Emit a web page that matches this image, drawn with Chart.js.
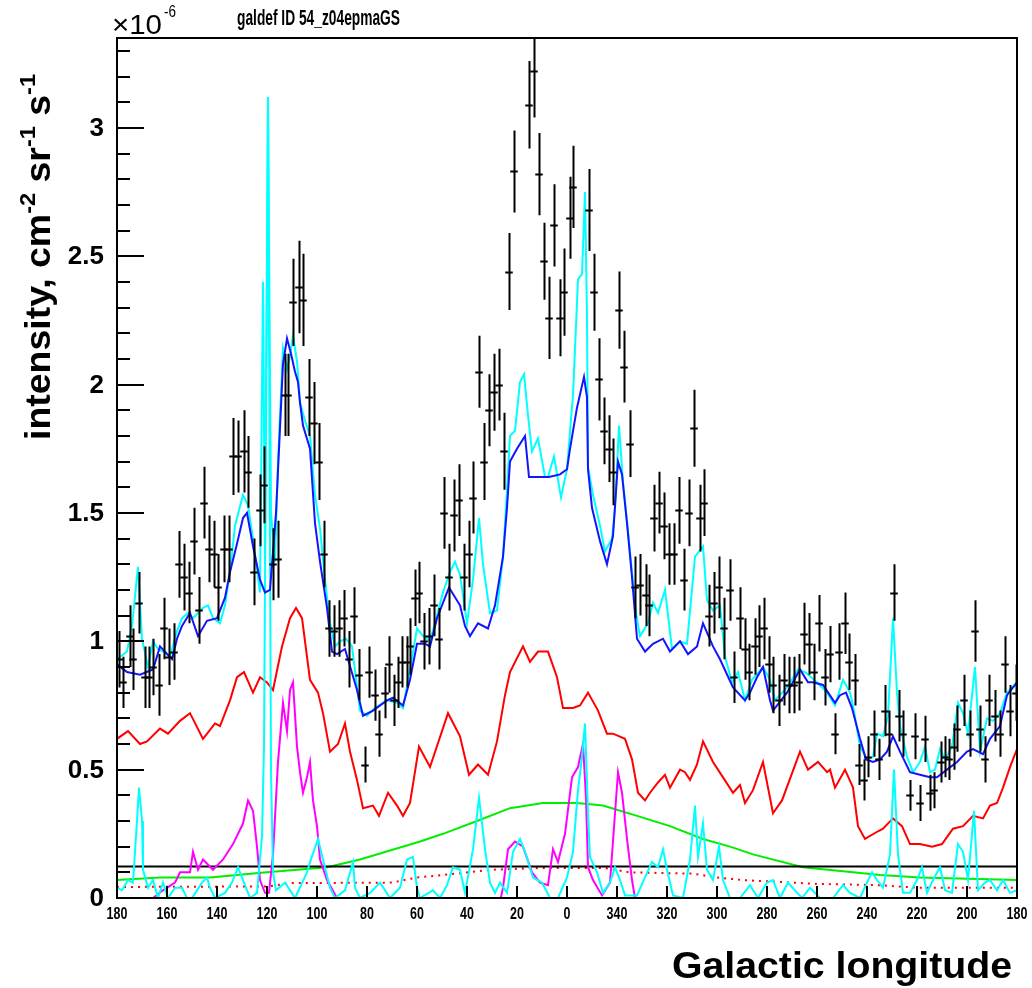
<!DOCTYPE html>
<html>
<head>
<meta charset="utf-8">
<script src="https://cdn.jsdelivr.net/npm/chart.js@4.4.0/dist/chart.umd.min.js"></script>
<style>
  html, body { margin: 0; padding: 0; background: #fff; }
  #wrap { width: 1032px; height: 988px; }
</style>
</head>
<body>
<div id="wrap"><canvas id="profile" width="1032" height="988"></canvas></div>
<script>
// Longitude profile, values in units of 1e-6 cm^-2 sr^-1 s^-1
// Longitudes run 180 -> 0 -> -180 (shown as 360-l on the right half)

// measured points (black crosses)
const dataLon = [
  179, 177.6, 174.8, 173.6, 171.2, 168.8, 167.2, 165.6, 163.2, 161.2,
  159.2, 157.2, 155.2, 153.2, 151.2, 149.2, 147.2, 145.2, 143.2, 141.2,
  139.6, 137.2, 135.2, 133.6, 131.6, 129.2, 127.6, 125.2, 122.8, 121.2,
  117.6, 115.6, 112.8, 111.6, 109.6, 107.2, 105.6, 103.2, 101.2, 99.2,
  97.2, 95.2, 93.2, 91.2, 89.2, 87.2, 85.2, 83.2, 80.8, 79.2,
  76.8, 75.2, 72.8, 71.2, 69.2, 67.6, 66, 64, 62.8, 60.8,
  59.2, 57.2, 55.2, 53.2, 51.2, 49.2, 47.2, 45.2, 43.2, 41.2,
  39.2, 37.6, 35.2, 33.2, 31.2, 29.2, 27.2, 25.2, 23.2, 21.2,
  15.2, 13.2, 11.2, 9.2, 7.2, 5.2, 2.8, 1.2, -1.2, -2.4,
  -8.8, -10.8, -12.8, -14.8, -16.8, -18.4, -20.8, -22.8, -25.2, -27.2,
  -29.2, -31.6, -32.8, -34.8, -36.8, -38.8, -40.8, -42.8, -44.8, -46.8,
  -48.8, -50.8, -53.2, -54.8, -56.8, -58.8, -60.8, -62.8, -65.2, -66.8,
  -69.2, -71.2, -72.8, -75.2, -76.8, -78.8, -80.8, -82.4, -84.8, -86.8,
  -88.8, -90.8, -92.8, -94.8, -96.8, -98.8, -100.8, -103.2, -105.2, -107.2,
  -108.8, -111.2, -112.8, -115.2, -116.8, -118.8, -120.4, -122.8, -124.8, -127.2,
  -128.8, -130.8, -132.8, -134.4, -137.2, -139.2, -141.2, -143.2, -145.2, -146.8,
  -149.6, -151.2, -152.8, -154.8, -156, -158.8, -161.2, -163.2, -165.2, -167.2,
  -168.8, -171.2, -173.2, -175.2, -177.2, -179.6
];
const dataVal = [
  0.93, 0.84, 1.02, 0.93, 1.15, 0.86, 0.86, 0.90, 0.83, 1.05,
  0.94, 0.96, 1.30, 1.25, 1.19, 1.39, 1.12, 1.54, 1.36, 1.34,
  1.21, 1.36, 1.36, 1.72, 1.72, 1.74, 1.66, 1.27, 1.51, 1.61,
  1.30, 1.32, 1.96, 1.96, 2.32, 2.38, 2.33, 1.95, 1.85, 1.70,
  1.34, 1.05, 1.04, 1.05, 1.09, 0.93, 1.10, 0.87, 0.52, 0.88,
  0.79, 0.64, 0.80, 0.91, 0.77, 0.84, 0.92, 0.92, 0.98, 1.17,
  1.19, 1.00, 1.02, 1.14, 1.01, 1.50, 1.25, 1.49, 1.55, 1.25,
  1.34, 1.56, 2.05, 1.70, 1.90, 1.97, 2.00, 1.74, 2.44, 2.83,
  3.09, 3.22, 2.82, 2.48, 2.26, 2.62, 2.26, 2.36, 2.65, 2.77,
  2.68, 2.36, 2.02, 1.82, 1.75, 1.66, 2.29, 2.07, 1.77, 1.21,
  1.22, 1.18, 1.14, 1.48, 1.54, 1.45, 1.34, 1.34, 1.51, 1.24,
  1.50, 1.83, 1.48, 1.54, 1.10, 1.15, 1.21, 1.05, 1.20, 0.86,
  1.09, 0.97, 0.88, 0.98, 1.02, 1.05, 0.91, 0.83, 0.77, 0.85,
  0.83, 0.83, 0.84, 1.03, 0.99, 0.88, 1.07, 0.86, 0.95, 0.64,
  0.96, 1.07, 0.92, 0.85, 0.52, 0.46, 0.55, 0.64, 0.54, 0.73,
  0.64, 1.19, 0.71, 0.64, 0.40, 0.63, 0.37, 0.62, 0.41, 0.42,
  0.53, 0.55, 0.54, 0.59, 0.66, 0.77, 0.64, 1.04, 0.66, 0.54,
  0.77, 0.71, 0.64, 0.91, 0.73, 0.80
];
const dataErr = [
  0.11, 0.10, 0.12, 0.12, 0.12, 0.12, 0.12, 0.11, 0.12, 0.12,
  0.11, 0.11, 0.13, 0.13, 0.12, 0.13, 0.13, 0.14, 0.13, 0.13,
  0.13, 0.13, 0.13, 0.15, 0.14, 0.16, 0.14, 0.13, 0.14, 0.15,
  0.14, 0.15, 0.16, 0.16, 0.17, 0.18, 0.18, 0.15, 0.16, 0.15,
  0.13, 0.11, 0.10, 0.11, 0.11, 0.11, 0.11, 0.10, 0.07, 0.10,
  0.10, 0.09, 0.10, 0.11, 0.10, 0.10, 0.10, 0.10, 0.11, 0.11,
  0.12, 0.11, 0.11, 0.12, 0.12, 0.14, 0.13, 0.14, 0.14, 0.13,
  0.13, 0.14, 0.14, 0.15, 0.14, 0.15, 0.14, 0.15, 0.15, 0.16,
  0.17, 0.18, 0.16, 0.15, 0.16, 0.16, 0.15, 0.17, 0.16, 0.16,
  0.16, 0.15, 0.16, 0.13, 0.13, 0.13, 0.15, 0.14, 0.13, 0.12,
  0.12, 0.12, 0.12, 0.13, 0.12, 0.13, 0.12, 0.12, 0.13, 0.12,
  0.13, 0.15, 0.13, 0.13, 0.12, 0.12, 0.12, 0.12, 0.12, 0.10,
  0.12, 0.12, 0.11, 0.11, 0.12, 0.12, 0.11, 0.11, 0.10, 0.10,
  0.11, 0.11, 0.11, 0.12, 0.12, 0.11, 0.11, 0.11, 0.11, 0.08,
  0.11, 0.12, 0.11, 0.10, 0.08, 0.08, 0.08, 0.09, 0.08, 0.10,
  0.09, 0.11, 0.10, 0.09, 0.06, 0.09, 0.07, 0.09, 0.07, 0.07,
  0.08, 0.08, 0.08, 0.09, 0.09, 0.10, 0.09, 0.12, 0.09, 0.09,
  0.10, 0.10, 0.09, 0.11, 0.10, 0.11
];

// total model (blue)
const blueLon = [
  180, 176, 170.8, 165.6, 162.8, 158, 156, 154, 150.8, 147.6, 144, 140, 136.8, 134.8, 132, 129.6, 128, 125.6,
  122.8, 120.8, 118.8, 116.4, 113.6, 112, 110.4, 108.8, 107.6, 106.8, 105.6, 102.8, 100.8, 98.8, 96, 94, 92,
  88.8, 84, 81.6, 77.6, 72, 69.6, 65.6, 62.8, 60, 56.8, 54.8, 52, 47.2, 42.8, 40.8, 38.8, 35.6, 31.6, 28.8,
  25.6, 24, 22.8, 20, 16.8, 15.2, 9.6, 7.2, 2.8, 0, -1.2, -4, -6.8, -8, -8.4, -10, -13.2, -16, -18.4, -20.4,
  -22, -24, -26, -28, -31.2, -34.4, -38.4, -41.2, -45.2, -48.4, -52, -54.4, -58.4, -61.2, -66.4, -71.2,
  -73.2, -76, -78.4, -81.2, -82.4, -88, -93.2, -96.4, -98.4, -102.4, -107.2, -109.2, -111.6, -114, -117.2,
  -119.6, -122.4, -125.2, -128, -130.4, -133.2, -137.2, -141.2, -145.2, -148, -152, -156, -160, -162.4,
  -166.4, -169.2, -173.2, -176, -180
];
const blueVal = [
  0.91, 0.88, 0.87, 0.89, 0.98, 0.93, 1.01, 1.06, 1.11, 1.02, 1.08, 1.09, 1.17, 1.27, 1.38, 1.48, 1.50, 1.37,
  1.24, 1.19, 1.20, 1.50, 2.08, 2.18, 2.12, 2.05, 2.01, 1.93, 1.84, 1.75, 1.46, 1.31, 1.13, 0.96, 0.95,
  0.97, 0.81, 0.71, 0.73, 0.77, 0.78, 0.75, 0.85, 0.99, 0.99, 0.98, 1.09, 1.21, 1.14, 1.06, 1.02, 1.07, 1.05, 1.14,
  1.33, 1.52, 1.70, 1.75, 1.80, 1.64, 1.64, 1.64, 1.65, 1.67, 1.75, 1.91, 2.03, 1.95, 1.67, 1.52, 1.39, 1.30, 1.41, 1.70,
  1.65, 1.46, 1.25, 1.01, 0.96, 0.99, 1.01, 0.96, 1.00, 0.95, 0.98, 1.07, 0.98, 0.93, 0.82, 0.77,
  0.80, 0.86, 0.90, 0.77, 0.73, 0.80, 0.89, 0.84, 0.84, 0.83, 0.76, 0.79, 0.80, 0.74, 0.62,
  0.54, 0.53, 0.54, 0.57, 0.63, 0.57, 0.49, 0.48, 0.47, 0.47, 0.50, 0.53, 0.57, 0.58,
  0.56, 0.62, 0.67, 0.79, 0.84
];

// model with sources (cyan, upper)
const cyanLon = [
  180, 176, 174, 171.6, 170, 167.6, 165.6, 163.6, 161.6, 158.8, 156, 154, 151.6, 149.6, 147.6, 145.6, 143.6,
  141.6, 138.8, 136.8, 134.8, 132.8, 129.6, 127.6, 125.6, 122.8, 121.6, 120.8, 119.6, 118.4, 116.8, 115.6,
  113.6, 112, 110.8, 109.6, 108, 106.8, 104.8, 102.8, 100.8, 98.8, 96.8, 94.8, 92.8, 90.8, 88.4, 86, 82.8,
  80, 76.8, 72, 68, 65.6, 62.8, 60, 57.6, 54.8, 52, 49.6, 46.8, 44.8, 42.8, 40, 37.6, 35.2, 33.6, 30.8, 28,
  25.6, 24, 22.8, 20.8, 18.8, 17.2, 15.6, 14, 11.6, 8.8, 7.6, 5.2, 2.4, 0, -2.4, -4.4, -6, -7.2, -8, -8.4,
  -10.4, -13.2, -15.2, -18, -19.2, -20.8, -22.4, -24.4, -26.4, -27.6, -29.2, -32.4, -34.4, -36.4, -39.2,
  -42, -45.2, -48, -51.2, -54.4, -56, -58.4, -61.2, -63.2, -66, -68.4, -71.2, -74, -78.4, -81.2, -83.2,
  -88, -92.4, -95.2, -100, -104, -107.2, -110.4, -113.2, -114.4, -117.2, -120, -122.4, -124, -126.4,
  -128.4, -130.4, -132, -133.2, -136, -138.4, -141.2, -143.2, -145.2, -147.2, -149.2, -151.2, -154,
  -156.4, -158.4, -160.4, -163.2, -165.2, -168, -170.4, -173.2, -176, -180
];
const cyanVal = [
  0.93, 0.96, 1.06, 1.29, 1.01, 0.90, 1.00, 0.97, 0.96, 0.94, 1.04, 1.09, 1.11, 1.09, 1.11, 1.13, 1.14,
  1.09, 1.07, 1.14, 1.27, 1.45, 1.57, 1.53, 1.40, 1.19, 2.40, 1.30, 3.12, 1.50, 1.31, 1.70,
  2.14, 2.06, 2.11, 2.19, 2.09, 1.93, 1.86, 1.80, 1.57, 1.44, 1.24, 1.07, 0.98, 1.00, 1.01, 0.98, 0.73,
  0.71, 0.74, 0.77, 0.76, 0.74, 0.89, 1.05, 1.02, 1.00, 1.10, 1.19, 1.27, 1.31, 1.26, 1.07, 1.24, 1.48, 1.30, 1.11, 1.12,
  1.33, 1.59, 1.80, 1.82, 2.01, 2.04, 1.88, 1.74, 1.79, 1.64, 1.64, 1.72, 1.56, 1.67, 1.96, 2.41, 2.43, 2.75, 2.27, 1.68,
  1.57, 1.45, 1.35, 1.40, 1.52, 1.84, 1.62, 1.43, 1.23, 1.11, 1.02, 1.07, 1.15, 1.11, 1.20,
  0.97, 1.00, 0.99, 1.33, 1.37, 1.16, 1.12, 1.14, 0.94, 0.84, 0.88, 0.77, 0.85, 0.90, 0.85, 0.77,
  0.82, 0.89, 0.88, 0.84, 0.80, 0.75, 0.85, 0.80, 0.75, 0.59, 0.54, 0.55, 0.64, 0.63,
  0.71, 1.09, 0.80, 0.67, 0.55, 0.49, 0.53, 0.59, 0.49, 0.50, 0.58, 0.54, 0.59,
  0.76, 0.72, 0.64, 0.90, 0.57, 0.70, 0.69, 0.72, 0.80, 0.84
];

// component (red)
const redLon = [
  180, 175.6, 170.8, 168, 162.8, 159.6, 154.8, 150.8, 145.6, 140.8, 138.8, 134.8, 132, 129.2, 125.6, 122.8,
  120, 117.6, 114, 110.8, 108.4, 106, 102.8, 99.6, 97.6, 94.8, 91.6, 88.8, 86.8, 84, 81.6, 77.6, 75.2, 71.6,
  68, 65.6, 62.8, 59.2, 54.8, 47.6, 42.8, 39.2, 35.6, 31.6, 28, 24.8, 22.8, 17.6, 14.8, 11.6, 7.6, 4, 1.6,
  -2.4, -5.2, -8.4, -12.4, -16, -18.4, -23.2, -26, -28.4, -31.2, -33.2, -36.4, -39.2, -41.2, -45.2, -47.2,
  -49.2, -52, -54.4, -58.4, -62.4, -66.4, -69.2, -71.2, -74.4, -78.4, -82.4, -86, -93.2, -96.4, -100.4, -104,
  -105.2, -107.2, -111.2, -114.4, -116.4, -119.2, -124.4, -126.4, -130.4, -134, -137.2, -141.2, -146, -150,
  -154.4, -158.4, -162.4, -166.4, -169.2, -172, -174.4, -177.2, -180
];
const redVal = [
  0.62, 0.65, 0.60, 0.61, 0.66, 0.64, 0.69, 0.72, 0.62, 0.68, 0.67, 0.77, 0.86, 0.88, 0.80, 0.86,
  0.84, 0.81, 0.98, 1.09, 1.13, 1.09, 0.85, 0.80, 0.72, 0.57, 0.60, 0.68, 0.57, 0.46, 0.35, 0.36, 0.32, 0.41,
  0.36, 0.32, 0.37, 0.59, 0.51, 0.72, 0.63, 0.48, 0.52, 0.48, 0.61, 0.79, 0.88, 0.98, 0.92, 0.96, 0.96, 0.86, 0.74,
  0.74, 0.75, 0.80, 0.73, 0.64, 0.64, 0.62, 0.54, 0.41, 0.38, 0.41, 0.45, 0.48, 0.43, 0.50, 0.49,
  0.46, 0.52, 0.61, 0.53, 0.47, 0.41, 0.44, 0.37, 0.42, 0.53, 0.33, 0.38, 0.57, 0.50, 0.53, 0.49,
  0.50, 0.43, 0.50, 0.43, 0.28, 0.23, 0.26, 0.27, 0.31, 0.28, 0.21, 0.21, 0.20, 0.21,
  0.27, 0.28, 0.32, 0.31, 0.36, 0.37, 0.43, 0.51, 0.58
];

// component (magenta), null separates the two humps
const magentaLon = [
  166.8, 165.6, 161.6, 156.8, 154.8, 150.8, 149.6, 147.6, 145.6, 141.6, 137.6, 133.6, 129.6, 127.6, 125.6,
  124, 122.8, 120.8, 119.2, 117.6, 115.6, 113.6, 112, 110.8, 109.6, 108, 106.8, 105.6, 104, 102.8, 101.6,
  100, 98.8, 96, 92, 88.8, 60,
  27.6, 25.6, 23.6, 20.8, 17.6, 14, 10.8, 7.6, 5.6, 3.6, 0.8, -2, -4.4, -6.4, -7.6, -8.4, -10.4, -14,
  -17.2, -19.2, -20.4, -22, -24, -26, -27.2, -29.2
];
const magentaVal = [
  -0.05, 0.0, 0.03, 0.06, 0.10, 0.10, 0.18, 0.11, 0.15, 0.11, 0.15, 0.21, 0.29, 0.38, 0.34,
  0.20, 0.07, 0.02, 0.02, 0.17, 0.53, 0.76, 0.65, 0.81, 0.84, 0.59, 0.49, 0.41, 0.47, 0.53, 0.38,
  0.28, 0.15, 0.07, 0.0, -0.05, null,
  -0.05, 0.04, 0.19, 0.22, 0.20, 0.10, 0.06, 0.05, 0.19, 0.14, 0.25, 0.47, 0.51, 0.60, 0.39, 0.12, 0.07, 0.01,
  0.06, 0.33, 0.49, 0.41, 0.23, 0.07, 0.0, -0.05
];

// broad component (green)
const greenLon = [180, 162.8, 142.8, 120, 96, 82.8, 58.8, 49.6, 36, 22.8, 9.6, -4, -14.4, -28, -41.2, -54.4, -65.2, -74.4, -94.4, -114.4, -125.2, -141.2, -180];
const greenVal = [0.07, 0.08, 0.08, 0.10, 0.12, 0.15, 0.22, 0.25, 0.30, 0.35, 0.37, 0.37, 0.36, 0.32, 0.28, 0.23, 0.20, 0.17, 0.12, 0.10, 0.09, 0.08, 0.07];

// sources (cyan, near zero)
const srcLon = [
  180, 178, 175.6, 173.6, 172, 171.2, 170, 169.6, 167.6, 165.6, 163.6, 161.6, 159.6, 156.8, 154, 152, 150,
  146, 144, 142.8, 140.8, 136.8, 134, 131.6, 129.6, 126.8, 124, 122, 121.2, 119.6, 118.4, 117.6, 116.4,
  112.8, 108.8, 104, 102.8, 99.6, 97.6, 94.8, 92.8, 88.8, 85.6, 84.8, 82.8, 78.8, 74.8, 70.8, 66.8, 64,
  61.6, 60, 58.8, 53.6, 50.8, 48, 45.6, 42.8, 40.8, 37.6, 35.2, 32.8, 30.8, 28.8, 26.8, 24, 21.6, 18.8,
  16.8, 13.6, 10, 6.8, 3.6, 0, -2.4, -4.4, -6, -7.2, -8.4, -9.2, -12, -14.4, -17.2, -19.2, -21.2, -23.2,
  -28, -31.2, -34, -36.4, -38.4, -40, -42.4, -46.4, -49.2, -51.2, -52.4, -54.4, -56, -58.4, -60.8, -62.4,
  -65.2, -69.2, -73.2, -76.4, -80, -82.4, -85.2, -88.4, -91.2, -94, -97.2, -101.2, -106.4, -110.4, -113.2,
  -117.2, -120, -122, -124, -126.4, -129.2, -130.8, -132.4, -134.4, -137.2, -140, -142, -144, -146.4,
  -149.2, -151.2, -154, -156.4, -158.4, -160.4, -162.8, -164.4, -167.2, -169.2, -172, -174.4, -177.2, -180
];
const srcVal = [
  0.04, 0.03, 0.07, 0.06, 0.30, 0.43, 0.30, 0.11, 0.04, 0.07, 0.0, 0.06, 0.0, 0.04, 0.04, 0.0, 0.0,
  0.06, 0.08, 0.04, 0.0, 0.02, 0.06, 0.12, 0.07, 0.0, 0.02, 0.24, 0.59, 3.12, 0.50, 0.10, 0.03,
  0.06, 0.0, 0.10, 0.14, 0.23, 0.15, 0.04, 0.0, 0.03, 0.14, 0.04, 0.0, 0.02, 0.06, 0.0, 0.04, 0.15,
  0.16, 0.04, 0.0, 0.03, 0.0, 0.05, 0.12, 0.11, 0.02, 0.19, 0.39, 0.19, 0.06, 0.02, 0.06, 0.02, 0.18, 0.23,
  0.18, 0.08, 0.06, 0.0, 0.0, 0.08, 0.18, 0.42, 0.55, 0.68, 0.33, 0.16, 0.10, 0.02, 0.06, 0.12, 0.07, 0.01,
  0.01, 0.08, 0.14, 0.12, 0.19, 0.11, 0.01, 0.0, 0.15, 0.36, 0.16, 0.29, 0.11, 0.07, 0.20, 0.07,
  0.0, 0.0, 0.05, 0.0, 0.06, 0.07, 0.0, 0.06, 0.03, 0.0, 0.04, 0.0, 0.0, 0.05, 0.02,
  0.0, 0.06, 0.10, 0.07, 0.04, 0.17, 0.50, 0.17, 0.02, 0.02, 0.07, 0.12, 0.02, 0.07,
  0.12, 0.03, 0.02, 0.21, 0.18, 0.07, 0.34, 0.03, 0.06, 0.07, 0.03, 0.07, 0.02, 0.03
];

// red dotted component
const dotLon = [180, 120, 110, 70, 60, 49, 30, 10, -15, -25, -50, -60, -70, -100, -125, -140, -180];
const dotVal = [0.043, 0.045, 0.058, 0.06, 0.08, 0.09, 0.11, 0.117, 0.117, 0.10, 0.095, 0.08, 0.07, 0.055, 0.05, 0.04, 0.04];

// flat isotropic level (black)
const isoLon = [180, -180];
const isoVal = [0.123, 0.123];

// axes
const xTickValues = [180, 160, 140, 120, 100, 80, 60, 40, 20, 0, -20, -40, -60, -80, -100, -120, -140, -160, -180];
const xTickLabels = ['180', '160', '140', '120', '100', '80', '60', '40', '20', '0', '340', '320', '300', '280', '260', '240', '220', '200', '180'];
const yTickValues = [0, 0.5, 1, 1.5, 2, 2.5, 3];
const yTickLabels = ['0', '0.5', '1', '1.5', '2', '2.5', '3'];

function toPoints(lons, vals) {
  return lons.map((l, i) => ({ x: l, y: vals[i] }));
}

function lineSet(lons, vals, color, order, extra) {
  return Object.assign({
    data: toPoints(lons, vals),
    borderColor: color,
    borderWidth: 2,
    pointRadius: 0,
    tension: 0,
    fill: false,
    order: order
  }, extra || {});
}

// draw text squeezed/stretched to a given width
function fitText(ctx, text, x, y, width) {
  const w = ctx.measureText(text).width;
  const k = width ? width / w : 1;
  ctx.save();
  ctx.translate(x, y);
  ctx.scale(k, 1);
  ctx.fillText(text, 0, 0);
  ctx.restore();
}

const rootFrame = {
  id: 'rootFrame',
  afterDatasetsDraw(chart) {
    const ctx = chart.ctx;
    const xs = chart.scales.x, ys = chart.scales.y;
    const area = chart.chartArea;

    // error bars
    ctx.save();
    ctx.beginPath();
    ctx.rect(area.left, area.top, area.right - area.left, area.bottom - area.top);
    ctx.clip();
    ctx.strokeStyle = '#000';
    ctx.lineWidth = 2;
    for (let i = 0; i < dataLon.length; i++) {
      const px = Math.round(xs.getPixelForValue(dataLon[i])) + 0.5;
      const py = Math.round(ys.getPixelForValue(dataVal[i])) + 0.5;
      ctx.beginPath();
      ctx.moveTo(px, ys.getPixelForValue(dataVal[i] + dataErr[i]));
      ctx.lineTo(px, ys.getPixelForValue(dataVal[i] - dataErr[i]));
      ctx.moveTo(xs.getPixelForValue(dataLon[i] + 1.5), py);
      ctx.lineTo(xs.getPixelForValue(dataLon[i] - 1.5), py);
      ctx.stroke();
    }
    ctx.restore();

    // frame
    ctx.save();
    ctx.strokeStyle = '#000';
    ctx.lineWidth = 2;
    ctx.strokeRect(area.left, area.top, area.right - area.left, area.bottom - area.top);

    // y ticks, inward
    ctx.beginPath();
    for (let k = 0; k <= 33; k++) {
      const v = k / 10;
      const py = Math.round(ys.getPixelForValue(v));
      const len = (k % 5 === 0) ? 27 : 13;
      ctx.moveTo(area.left, py);
      ctx.lineTo(area.left + len, py);
    }
    // x ticks, inward
    xTickValues.forEach(v => {
      const px = Math.round(xs.getPixelForValue(v));
      ctx.moveTo(px, area.bottom);
      ctx.lineTo(px, area.bottom - 12);
    });
    ctx.stroke();

    ctx.fillStyle = '#000';
    // y tick labels
    ctx.font = 'bold 26px "Liberation Sans", Arial, sans-serif';
    ctx.textAlign = 'right';
    ctx.textBaseline = 'middle';
    yTickValues.forEach((v, i) => {
      ctx.fillText(yTickLabels[i], area.left - 13, ys.getPixelForValue(v) + 1);
    });

    // x tick labels
    ctx.font = 'bold 16px "Liberation Sans", Arial, sans-serif';
    ctx.textAlign = 'center';
    ctx.textBaseline = 'alphabetic';
    xTickValues.forEach((v, i) => {
      const px = xs.getPixelForValue(v);
      const w = ctx.measureText(xTickLabels[i]).width * 0.78;
      fitText(ctx, xTickLabels[i], px, 919, w);
    });

    // x title
    ctx.font = 'bold 36px "Liberation Sans", Arial, sans-serif';
    ctx.textAlign = 'right';
    fitText(ctx, 'Galactic longitude', 1012, 978, 340);

    // title
    ctx.font = 'bold 22px "Liberation Sans", Arial, sans-serif';
    ctx.textAlign = 'left';
    fitText(ctx, 'galdef ID 54_z04epmaGS', 237, 25, 163);

    // exponent
    ctx.font = '28px "Liberation Sans", Arial, sans-serif';
    fitText(ctx, '\u00d710', 112, 34, 50);
    ctx.font = '17px "Liberation Sans", Arial, sans-serif';
    fitText(ctx, '-6', 164, 17, 12);

    // y title with superscripts, rotated
    ctx.translate(50, 440);
    ctx.rotate(-Math.PI / 2);
    const parts = [
      ['intensity, cm', 0], ['-2', 1], [' sr', 0], ['-1', 1], [' s', 0], ['-1', 1]
    ];
    const big = 'bold 35px "Liberation Sans", Arial, sans-serif';
    const small = 'bold 22px "Liberation Sans", Arial, sans-serif';
    let total = 0;
    parts.forEach(p => { ctx.font = p[1] ? small : big; total += ctx.measureText(p[0]).width; });
    const k = 366 / total;
    ctx.scale(k, 1);
    let cx = 0;
    ctx.textAlign = 'left';
    parts.forEach(p => {
      ctx.font = p[1] ? small : big;
      ctx.fillText(p[0], cx, p[1] ? -15 : 0);
      cx += ctx.measureText(p[0]).width;
    });
    ctx.restore();
  }
};

const ctx = document.getElementById('profile').getContext('2d');

const profileChart = new Chart(ctx, {
  type: 'line',
  data: {
    datasets: [
      // measured points: the crosses are drawn by the plugin from these
      { data: toPoints(dataLon, dataVal), showLine: false, pointRadius: 0, borderColor: '#000', order: 0 },
      lineSet(blueLon, blueVal, '#1414ff', 1),
      lineSet(cyanLon, cyanVal, '#00ffff', 2),
      lineSet(srcLon, srcVal, '#00ffff', 3),
      lineSet(magentaLon, magentaVal, '#ff00ff', 4),
      lineSet(redLon, redVal, '#ff0000', 5),
      lineSet(isoLon, isoVal, '#000000', 6),
      lineSet(dotLon, dotVal, '#ff0000', 7, { borderDash: [2, 5] }),
      lineSet(greenLon, greenVal, '#00ee00', 8)
    ]
  },
  options: {
    responsive: false,
    devicePixelRatio: 1,
    animation: false,
    events: [],
    layout: {
      padding: { left: 117, right: 15, top: 38, bottom: 90 }
    },
    scales: {
      x: { type: 'linear', min: -180, max: 180, reverse: true, display: false },
      y: { type: 'linear', min: 0, max: 3.35, display: false }
    },
    plugins: {
      legend: { display: false },
      tooltip: { enabled: false }
    }
  },
  plugins: [rootFrame]
});
</script>
</body>
</html>
